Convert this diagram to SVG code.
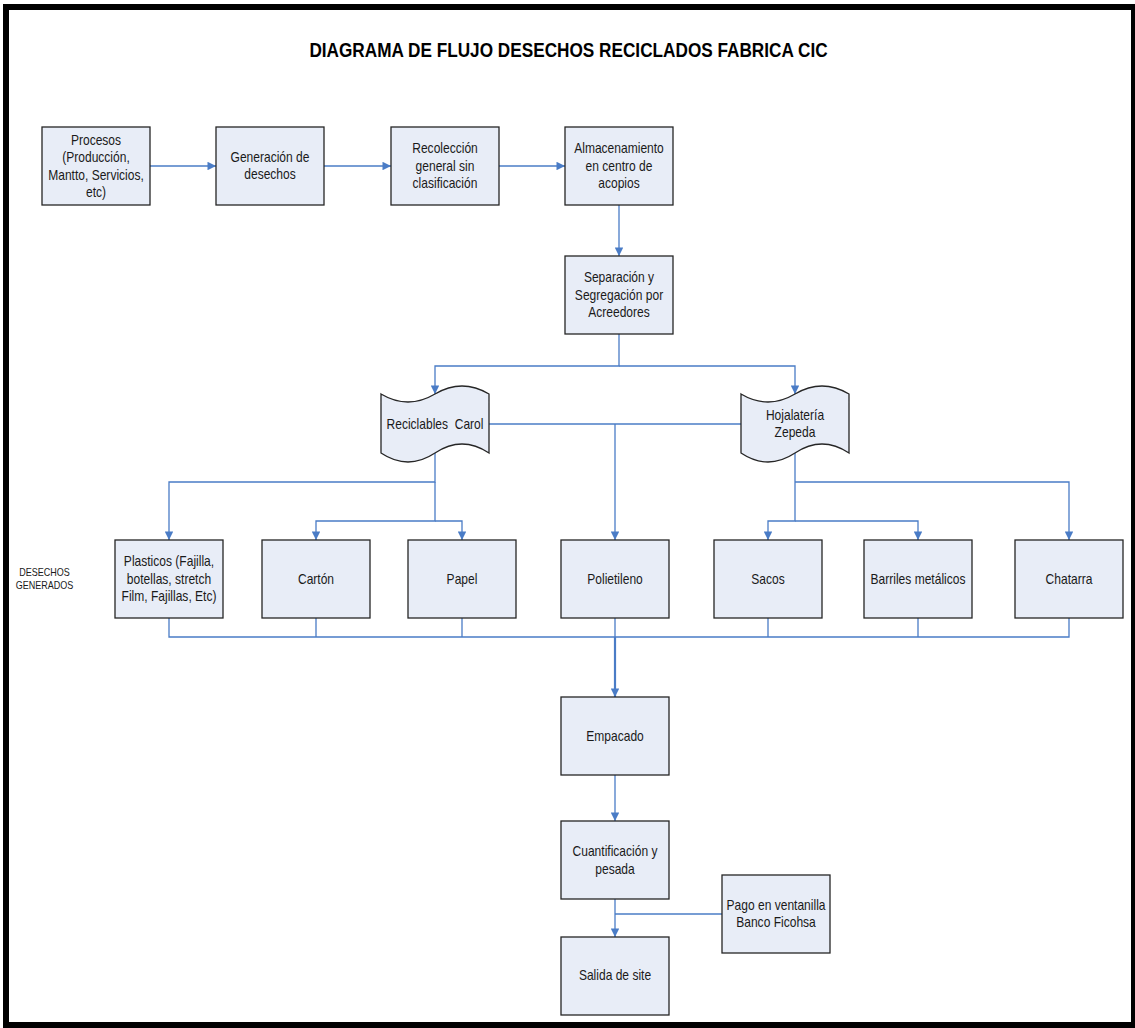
<svg xmlns="http://www.w3.org/2000/svg" width="1135" height="1028" viewBox="0 0 1135 1028">
<style>
  .box { fill: #E8EDF7; stroke: #262626; stroke-width: 1.3; }
  .t { font-family: "Liberation Sans", Arial, sans-serif; font-size: 14px; fill: #1a1a1a; text-anchor: middle; }
  .title { font-family: "Liberation Sans", Arial, sans-serif; font-size: 20px; font-weight: bold; fill: #000; text-anchor: middle; }
  .small { font-family: "Liberation Sans", Arial, sans-serif; font-size: 10.5px; fill: #1a1a1a; text-anchor: middle; }
  .c { fill: none; stroke: #4A7CC6; stroke-width: 1.3; }
  .a { marker-end: url(#arr); }
  .thick { stroke-width: 2.2; }
</style>
<defs>
  <marker id="arr" viewBox="0 0 10 10" refX="10" refY="5" markerWidth="9" markerHeight="8.5" markerUnits="userSpaceOnUse" orient="auto">
    <path d="M0,0 L10,5 L0,10 z" fill="#4A7CC6"/>
  </marker>
</defs>
<rect x="0" y="0" width="1135" height="1028" fill="#fff"/>
<rect x="6" y="7" width="1128" height="1018" fill="#fff" stroke="#000" stroke-width="6"/>

<text class="title" transform="translate(568.5,0) scale(0.86,1)" x="0" y="57.5">DIAGRAMA DE FLUJO DESECHOS RECICLADOS FABRICA CIC</text>

<text class="small" transform="translate(44.5,0) scale(0.86,1)"><tspan x="0" y="576">DESECHOS</tspan><tspan x="0" y="589">GENERADOS</tspan></text>

<g id="connectors">
  <path class="c a" d="M150,166 H216"/>
  <path class="c a" d="M324,166 H391"/>
  <path class="c a" d="M499,166 H565"/>
  <path class="c a" d="M619,205 V256"/>
  <path class="c a" d="M619,334 V366 H435 V394"/>
  <path class="c a" d="M619,366 H795 V394"/>
  <path class="c a" d="M435,453 V482 H169 V540"/>
  <path class="c a" d="M435,482 V521 H316 V540"/>
  <path class="c a" d="M435,521 H462 V540"/>
  <path class="c" d="M489,424 H741"/>
  <path class="c a" d="M615,424 V540"/>
  <path class="c a" d="M795,453 V521 H768 V540"/>
  <path class="c a" d="M795,521 H918 V540"/>
  <path class="c a" d="M795,482 H1069 V540"/>
  <path class="c" d="M169,618 V637 H1069 V618"/>
  <path class="c" d="M316,618 V637 M462,618 V637 M615,618 V637 M768,618 V637 M918,618 V637"/>
  <path class="c a thick" d="M615,637 V697"/>
  <path class="c a" d="M615,775 V821"/>
  <path class="c a" d="M615,899 V937"/>
  <path class="c" d="M722,914 H615"/>
</g>

<g id="procesos">
  <rect class="box" x="42" y="127" width="108" height="78"/>
  <text class="t" transform="translate(96,0) scale(0.86,1)"><tspan x="0" y="145">Procesos</tspan><tspan x="0" y="162.5">(Producción,</tspan><tspan x="0" y="180">Mantto, Servicios,</tspan><tspan x="0" y="197.5">etc)</tspan></text>
</g>
<g id="generacion">
  <rect class="box" x="216" y="127" width="108" height="78"/>
  <text class="t" transform="translate(270,0) scale(0.86,1)"><tspan x="0" y="162">Generación de</tspan><tspan x="0" y="179.5">desechos</tspan></text>
</g>
<g id="recoleccion">
  <rect class="box" x="391" y="127" width="108" height="78"/>
  <text class="t" transform="translate(445,0) scale(0.86,1)"><tspan x="0" y="153.5">Recolección</tspan><tspan x="0" y="171">general sin</tspan><tspan x="0" y="188.5">clasificación</tspan></text>
</g>
<g id="almacenamiento">
  <rect class="box" x="565" y="127" width="108" height="78"/>
  <text class="t" transform="translate(619,0) scale(0.86,1)"><tspan x="0" y="153.5">Almacenamiento</tspan><tspan x="0" y="171">en centro de</tspan><tspan x="0" y="188.5">acopios</tspan></text>
</g>
<g id="separacion">
  <rect class="box" x="565" y="256" width="108" height="78"/>
  <text class="t" transform="translate(619,0) scale(0.86,1)"><tspan x="0" y="282.5">Separación y</tspan><tspan x="0" y="300">Segregación por</tspan><tspan x="0" y="317.5">Acreedores</tspan></text>
</g>
<g id="reciclables-carol">
  <path class="box" d="M381,394 Q408,410 435,394 Q462,378 489,394 L489,453 Q462,435 435,453 Q408,471 381,453 Z"/>
  <text class="t" transform="translate(435,0) scale(0.86,1)" x="0" y="429" style="white-space:pre" xml:space="preserve">Reciclables  Carol</text>
</g>
<g id="hojalateria-zepeda">
  <path class="box" d="M741,394 Q768,410 795,394 Q822,378 849,394 L849,453 Q822,435 795,453 Q768,471 741,453 Z"/>
  <text class="t" transform="translate(795,0) scale(0.86,1)"><tspan x="0" y="420">Hojalatería</tspan><tspan x="0" y="437">Zepeda</tspan></text>
</g>
<g id="plasticos">
  <rect class="box" x="115" y="540" width="108" height="78"/>
  <text class="t" transform="translate(169,0) scale(0.86,1)"><tspan x="0" y="566.5">Plasticos (Fajilla,</tspan><tspan x="0" y="584">botellas, stretch</tspan><tspan x="0" y="601.5">Film, Fajillas, Etc)</tspan></text>
</g>
<g id="carton">
  <rect class="box" x="262" y="540" width="108" height="78"/>
  <text class="t" transform="translate(316,0) scale(0.86,1)" x="0" y="584">Cartón</text>
</g>
<g id="papel">
  <rect class="box" x="408" y="540" width="108" height="78"/>
  <text class="t" transform="translate(462,0) scale(0.86,1)" x="0" y="584">Papel</text>
</g>
<g id="polietileno">
  <rect class="box" x="561" y="540" width="108" height="78"/>
  <text class="t" transform="translate(615,0) scale(0.86,1)" x="0" y="584">Polietileno</text>
</g>
<g id="sacos">
  <rect class="box" x="714" y="540" width="108" height="78"/>
  <text class="t" transform="translate(768,0) scale(0.86,1)" x="0" y="584">Sacos</text>
</g>
<g id="barriles">
  <rect class="box" x="864" y="540" width="108" height="78"/>
  <text class="t" transform="translate(918,0) scale(0.86,1)" x="0" y="584">Barriles metálicos</text>
</g>
<g id="chatarra">
  <rect class="box" x="1015" y="540" width="108" height="78"/>
  <text class="t" transform="translate(1069,0) scale(0.86,1)" x="0" y="584">Chatarra</text>
</g>
<g id="empacado">
  <rect class="box" x="561" y="697" width="108" height="78"/>
  <text class="t" transform="translate(615,0) scale(0.86,1)" x="0" y="741">Empacado</text>
</g>
<g id="cuantificacion">
  <rect class="box" x="561" y="821" width="108" height="78"/>
  <text class="t" transform="translate(615,0) scale(0.86,1)"><tspan x="0" y="856.5">Cuantificación y</tspan><tspan x="0" y="874">pesada</tspan></text>
</g>
<g id="pago">
  <rect class="box" x="722" y="875" width="108" height="78"/>
  <text class="t" transform="translate(776,0) scale(0.86,1)"><tspan x="0" y="910">Pago en ventanilla</tspan><tspan x="0" y="927.5">Banco Ficohsa</tspan></text>
</g>
<g id="salida">
  <rect class="box" x="561" y="937" width="108" height="78"/>
  <text class="t" transform="translate(615,0) scale(0.86,1)" x="0" y="980.5">Salida de site</text>
</g>
</svg>
